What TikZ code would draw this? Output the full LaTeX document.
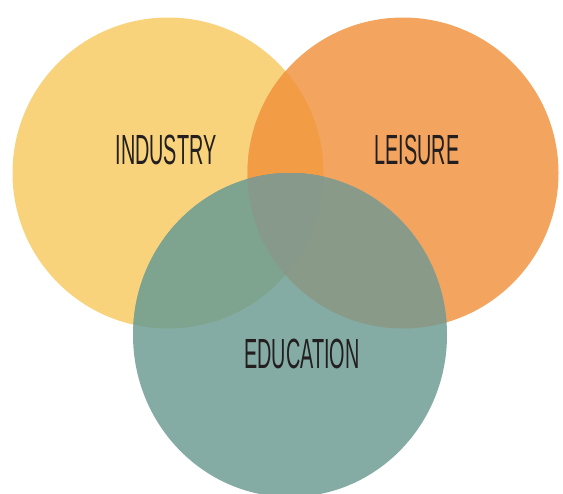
\documentclass[tikz,border=0pt]{standalone}
\usepackage{fontspec}
\setmainfont{Liberation Sans}
\usetikzlibrary{positioning}

\definecolor{indfill}{HTML}{F8D37B}
\definecolor{leifill}{HTML}{F3A45E}
\definecolor{edufill}{HTML}{85ACA4}
\definecolor{indlei}{HTML}{F29C46}
\definecolor{induedu}{HTML}{7EA48F}
\definecolor{leiedu}{HTML}{8A9A88}
\definecolor{allthree}{HTML}{86998A}
\definecolor{labelink}{HTML}{231F20}

\newcommand{\ringr}{3.11}

\begin{document}
\begin{tikzpicture}[
  areaname/.style={text=labelink,font=\fontsize{24}{24}\selectfont,xscale=0.47,transform shape,inner sep=0pt},
  edushape/.style={x radius=3.14,y radius=3.24}
]
\useasboundingbox (0,0) rectangle (11.26,9.86);
\clip (0,0) rectangle (11.26,9.86);

\coordinate (ind) at (3.36,6.40);
\coordinate (lei) at (8.06,6.40);
\coordinate (edu) at (5.80,3.16);

% circles
\fill[indfill] (ind) circle[radius=\ringr];
\fill[leifill] (lei) circle[radius=\ringr];
\begin{scope}
  \clip (ind) circle[radius=\ringr];
  \fill[indlei] (lei) circle[radius=\ringr];
\end{scope}
\fill[edufill] (edu) ellipse[edushape];
\begin{scope}
  \clip (edu) ellipse[edushape];
  \fill[induedu] (ind) circle[radius=\ringr];
  \fill[leiedu] (lei) circle[radius=\ringr];
  \clip (ind) circle[radius=\ringr];
  \fill[allthree] (lei) circle[radius=\ringr];
\end{scope}

% labels
\node[areaname] (industry) at (3.32,6.86) {INDUSTRY};
\node[areaname] (leisure) at (8.34,6.86) {LEISURE};
\node[areaname] (education) at (6.04,2.78) {EDUCATION};
\end{tikzpicture}
\end{document}
